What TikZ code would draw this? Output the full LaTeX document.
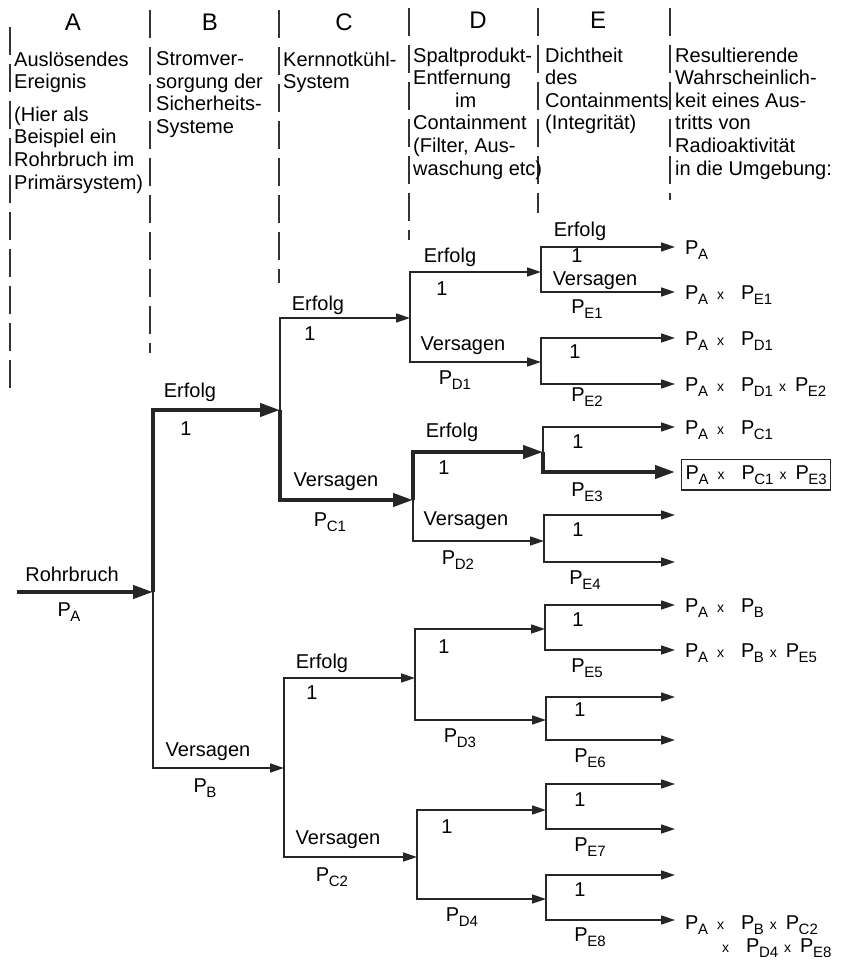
\documentclass[tikz,border=0pt]{standalone}
\usepackage{fontspec}
\setmainfont{Liberation Sans}
\usetikzlibrary{arrows.meta}
\newcommand{\Pw}[1]{P\kern-0.5pt\raisebox{-5pt}{\fontsize{15}{15}\selectfont #1}}
\newcommand{\malw}{\hspace{9pt}{\fontsize{14}{14}\selectfont x}\hspace{17pt}}
\newcommand{\mal}{\hspace{6pt}{\fontsize{14}{14}\selectfont x}\hspace{9pt}}
\tikzset{
  ast/.style={draw=black!85, line width=1.6pt, -{Triangle[length=14pt,width=9pt]}},
  astdick/.style={draw=black!85, line width=4pt, -{Triangle[length=20pt,width=13pt]}},
  spalte/.style={draw=black!80, line width=1.3pt, dash pattern=on 28pt off 9pt},
  kopf/.style={anchor=north west, inner sep=0pt, align=left, font=\fontsize{20}{22.6}\selectfont},
  buchst/.style={inner sep=0pt, font=\fontsize{24}{24}\selectfont},
  lbl/.style={inner sep=0pt, font=\fontsize{20}{24}\selectfont},
  erg/.style={anchor=base west, inner sep=0pt, font=\fontsize{20}{24}\selectfont}
}
\begin{document}
\begin{tikzpicture}[x=1pt,y=-1pt]
\fill[white] (0,0) rectangle (851,964);
\useasboundingbox (0,0) rectangle (851,964);
% Spaltentrenner
\draw[spalte] (10,27) -- (10,393);
\draw[spalte] (150,10) -- (150,353);
\draw[spalte] (279,10) -- (279,283);
\draw[spalte] (409,8) -- (409,240);
\draw[spalte] (538,8) -- (538,213);
\draw[spalte] (670,8) -- (670,200);
% Kopfzeile
\node[buchst] (kA) at (73,22) {A};
\node[buchst] (kB) at (210,22) {B};
\node[buchst] (kC) at (344,22) {C};
\node[buchst] (kD) at (478,20) {D};
\node[buchst] (kE) at (598,20) {E};
\node[kopf] (tA) at (14,51.5) {Auslösendes\\Ereignis\\[10pt](Hier als\\Beispiel ein\\Rohrbruch im\\Primärsystem)};
\node[kopf] (tB) at (156,51.5) {Stromver-\\sorgung der\\Sicherheits-\\Systeme};
\node[kopf] (tC) at (283,51.5) {Kernnotkühl-\\System};
\node[kopf] (tD) at (413,47.5) {Spaltprodukt-\\Entfernung\\\hspace*{42pt}im\\Containment\\(Filter, Aus-\\waschung etc)};
\node[kopf] (tE) at (545,47.5) {Dichtheit\\des\\Containments\\(Integrität)};
\node[kopf] (tF) at (675,47.5) {Resultierende\\Wahrscheinlich-\\keit eines Aus-\\tritts von\\Radioaktivität\\in die Umgebung:};
% Verzweigungspunkte
\coordinate (start) at (17,592);
\coordinate (a) at (153,592);
\coordinate (b1) at (280,410);
\coordinate (b2) at (284,768);
\coordinate (c1) at (410,318);
\coordinate (c2) at (413,500);
\coordinate (c3) at (415,678);
\coordinate (c4) at (417,857);
\coordinate (d1) at (541,272);
\coordinate (d2) at (541,362);
\coordinate (d3) at (543,452);
\coordinate (d4) at (544,541);
\coordinate (d5) at (545,629);
\coordinate (d6) at (546,720);
\coordinate (d7) at (546,810);
\coordinate (d8) at (546,899);
\coordinate (e1) at (675,247);
\coordinate (e2) at (675,292);
\coordinate (e3) at (675,338);
\coordinate (e4) at (675,384);
\coordinate (e5) at (675,427);
\coordinate (e6) at (675,472);
\coordinate (e7) at (675,515);
\coordinate (e8) at (675,562);
\coordinate (e9) at (675,605);
\coordinate (e10) at (675,650);
\coordinate (e11) at (675,697);
\coordinate (e12) at (675,740);
\coordinate (e13) at (675,784);
\coordinate (e14) at (675,829);
\coordinate (e15) at (675,875);
\coordinate (e16) at (675,920);
% Aeste
\draw[astdick] (start) -- (a);
\draw[astdick] (a) |- (b1);
\draw[ast] (a) |- (b2);
\draw[ast] (b1) |- (c1);
\draw[astdick] (b1) |- (c2);
\draw[ast] (b2) |- (c3);
\draw[ast] (b2) |- (c4);
\draw[ast] (c1) |- (d1);
\draw[ast] (c1) |- (d2);
\draw[astdick] (c2) |- (d3);
\draw[ast] (c2) |- (d4);
\draw[ast] (c3) |- (d5);
\draw[ast] (c3) |- (d6);
\draw[ast] (c4) |- (d7);
\draw[ast] (c4) |- (d8);
\draw[ast] (d1) |- (e1);
\draw[ast] (d1) |- (e2);
\draw[ast] (d2) |- (e3);
\draw[ast] (d2) |- (e4);
\draw[ast] (d3) |- (e5);
\draw[astdick] (d3) |- (e6);
\draw[ast] (d4) |- (e7);
\draw[ast] (d4) |- (e8);
\draw[ast] (d5) |- (e9);
\draw[ast] (d5) |- (e10);
\draw[ast] (d6) |- (e11);
\draw[ast] (d6) |- (e12);
\draw[ast] (d7) |- (e13);
\draw[ast] (d7) |- (e14);
\draw[ast] (d8) |- (e15);
\draw[ast] (d8) |- (e16);
% Beschriftung der Aeste
\node[lbl] (lRohr) at (72,574) {Rohrbruch};
\node[lbl] (lPA) at (69,612) {\Pw{A}};
\node[lbl] (lErfB) at (190,392) {Erfolg};
\node[lbl] (lEinsB) at (186,429) {1};
\node[lbl] (lVerB) at (208,752) {Versagen};
\node[lbl] (lPB) at (205,788) {\Pw{B}};
\node[lbl] (lErfC1) at (318,305) {Erfolg};
\node[lbl] (lEinsC1) at (310,334) {1};
\node[lbl] (lVerC1) at (336,482) {Versagen};
\node[lbl] (lPC1) at (330,522) {\Pw{C1}};
\node[lbl] (lErfC2) at (322,663) {Erfolg};
\node[lbl] (lEinsC2) at (312,693) {1};
\node[lbl] (lVerC2) at (338,840) {Versagen};
\node[lbl] (lPC2) at (332,877) {\Pw{C2}};
\node[lbl] (lErfD1) at (450,257) {Erfolg};
\node[lbl] (lEinsD1) at (442,289) {1};
\node[lbl] (lVerD1) at (463,346) {Versagen};
\node[lbl] (lPD1) at (455,380) {\Pw{D1}};
\node[lbl] (lErfD2) at (452,432) {Erfolg};
\node[lbl] (lEinsD2) at (444,468) {1};
\node[lbl] (lVerD2) at (466,521) {Versagen};
\node[lbl] (lPD2) at (458,560) {\Pw{D2}};
\node[lbl] (lEinsD3) at (444,647) {1};
\node[lbl] (lPD3) at (460,738) {\Pw{D3}};
\node[lbl] (lEinsD4) at (447,827) {1};
\node[lbl] (lPD4) at (462,917) {\Pw{D4}};
\node[lbl] (lErfE1) at (580,231) {Erfolg};
\node[lbl] (lEinsE1) at (577,256) {1};
\node[lbl] (lVerE1) at (595,281) {Versagen};
\node[lbl] (lPE1) at (587,309) {\Pw{E1}};
\node[lbl] (lEinsE2) at (575,352) {1};
\node[lbl] (lPE2) at (587,397) {\Pw{E2}};
\node[lbl] (lEinsE3) at (578,442) {1};
\node[lbl] (lPE3) at (587,492) {\Pw{E3}};
\node[lbl] (lEinsE4) at (578,530) {1};
\node[lbl] (lPE4) at (585,580) {\Pw{E4}};
\node[lbl] (lEinsE5) at (578,620) {1};
\node[lbl] (lPE5) at (587,668) {\Pw{E5}};
\node[lbl] (lEinsE6) at (580,710) {1};
\node[lbl] (lPE6) at (590,758) {\Pw{E6}};
\node[lbl] (lEinsE7) at (580,800) {1};
\node[lbl] (lPE7) at (590,847) {\Pw{E7}};
\node[lbl] (lEinsE8) at (580,890) {1};
\node[lbl] (lPE8) at (590,937) {\Pw{E8}};
% Ergebnisse
\node[erg] (r1) at (685,254) {\Pw{A}};
\node[erg] (r2) at (685,299) {\Pw{A}\malw\Pw{E1}};
\node[erg] (r3) at (685,345) {\Pw{A}\malw\Pw{D1}};
\node[erg] (r4) at (685,391) {\Pw{A}\malw\Pw{D1}\mal\Pw{E2}};
\node[erg] (r5) at (685,434) {\Pw{A}\malw\Pw{C1}};
\node[erg, draw=black!85, line width=1.4pt, inner xsep=4pt, inner ysep=6pt] (r6) at (681,479) {\Pw{A}\malw\Pw{C1}\mal\Pw{E3}\hspace{5pt}};
\node[erg] (r9) at (685,612) {\Pw{A}\malw\Pw{B}};
\node[erg] (r10) at (685,657) {\Pw{A}\malw\Pw{B}\mal\Pw{E5}};
\node[erg, anchor=north west, align=left, font=\fontsize{20}{23}\selectfont] (r16) at (685,915.7) {\Pw{A}\malw\Pw{B}\mal\Pw{C2}\\\hspace*{37pt}{\fontsize{14}{14}\selectfont x}\hspace{17pt}\Pw{D4}\mal\Pw{E8}};
\end{tikzpicture}
\end{document}
